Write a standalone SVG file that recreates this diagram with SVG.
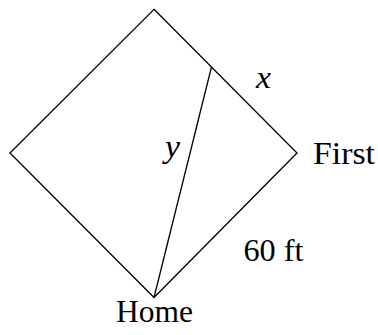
<svg xmlns="http://www.w3.org/2000/svg" width="378" height="335" viewBox="0 0 378 335">
<style>
.ln{fill:none;stroke:#000;stroke-width:1.3;stroke-linejoin:miter}
.t{font-family:"Liberation Serif","Times New Roman",serif;font-size:31px;fill:#000}
.i{font-style:italic}
</style>
<rect width="378" height="335" fill="#fff"/>
<g id="connectors">
<polygon id="diamond" class="ln" points="154,9.3 297,153 154,297.5 10,153"/>
<line id="y-line" class="ln" x1="154" y1="297.5" x2="211.5" y2="67"/>
</g>
<g id="home"><text class="t" x="116" y="322" textLength="77" lengthAdjust="spacingAndGlyphs">Home</text></g>
<g id="first"><text class="t" x="313" y="164" textLength="62" lengthAdjust="spacingAndGlyphs">First</text></g>
<g id="label-60"><text class="t" x="243.5" y="261" textLength="60" lengthAdjust="spacingAndGlyphs">60 ft</text></g>
<g id="label-x"><text class="t i" x="256" y="88" textLength="15" lengthAdjust="spacingAndGlyphs">x</text></g>
<g id="label-y"><text class="t i" x="165" y="157" textLength="15" lengthAdjust="spacingAndGlyphs">y</text></g>
</svg>
